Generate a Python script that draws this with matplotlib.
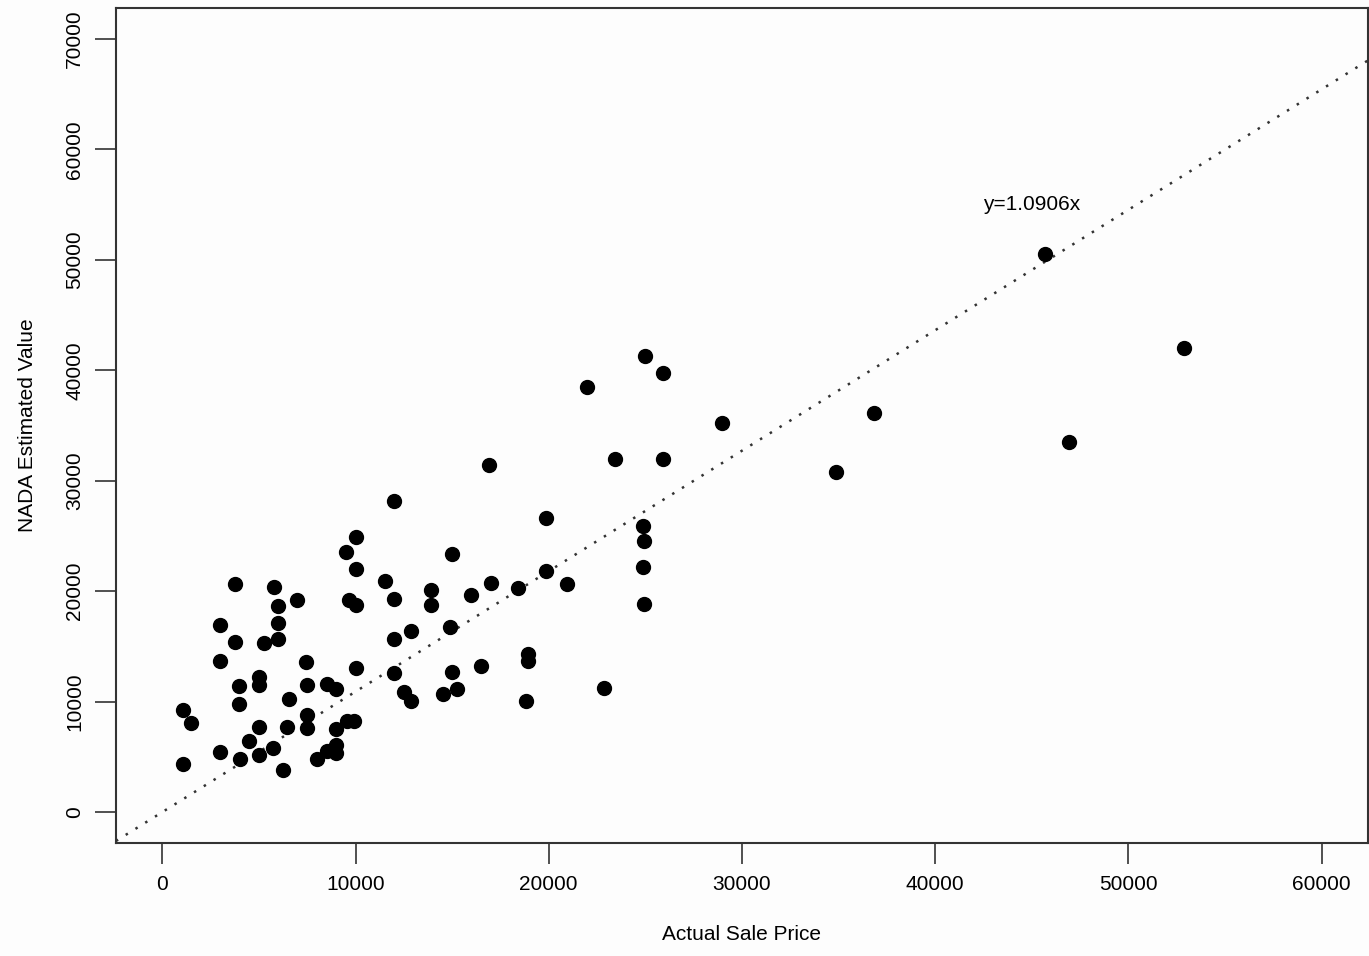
import matplotlib
matplotlib.use("Agg")
import matplotlib.pyplot as plt
import numpy as np

plt.rcParams['font.family'] = ['Liberation Sans', 'DejaVu Sans']

# actual sale price vs NADA estimate
sale_price = [1084, 1497, 1084, 2994, 2994, 2994, 3769, 3769, 3975, 3975,
              4027, 4492, 5008, 5008, 5008, 5008, 5266, 5782, 5730, 5989,
              5989, 5989, 6247, 6453, 6556, 6969, 7434, 7486, 7486, 7486,
              8002, 8518, 8518, 8983, 8983, 8983, 8983, 9499, 9654, 9551,
              9912, 10015, 10015, 10015, 10015, 11513, 11977, 11977, 11977, 11977,
              12494, 12855, 12855, 13887, 13887, 14507, 14868, 14971, 14971, 15230,
              15952, 16520, 16933, 17036, 18430, 18843, 18946, 18946, 19876, 19876,
              20960, 21993, 22870, 23438, 24987, 24884, 24935, 24884, 24935, 25916,
              25916, 28962, 34848, 36861, 45689, 46928, 52865]
nada_value = [9247, 8069, 4352, 16954, 13690, 5440, 20671, 15413, 11423, 9791,
              4805, 6437, 12239, 11514, 7706, 5168, 15322, 20399, 5802, 18676,
              17135, 15684, 3808, 7706, 10245, 19220, 13599, 11514, 8794, 7615,
              4805, 11605, 5530, 11151, 7525, 6074, 5349, 23572, 19220, 8250,
              8250, 24932, 22031, 18767, 13055, 20943, 28196, 19311, 15684, 12602,
              10879, 16410, 10063, 20127, 18767, 10698, 16772, 23391, 12692, 11151,
              19673, 13237, 31460, 20762, 20308, 10063, 14325, 13690, 26655, 21850,
              20671, 38531, 11242, 32004, 41251, 25929, 24569, 22212, 18858, 39800,
              32004, 35267, 30825, 36174, 50498, 33545, 41976]

slope = 1.0906
x_ticks = [0, 10000, 20000, 30000, 40000, 50000, 60000]
y_ticks = [0, 10000, 20000, 30000, 40000, 50000, 60000, 70000]

fig = plt.figure(figsize=(13.69, 9.56), dpi=100, facecolor='#fdfdfd')
ax = fig.add_axes([0.0847, 0.1182, 0.9145, 0.8734])
ax.set_facecolor('#fdfdfd')

ax.scatter(sale_price, nada_value, s=100, c='black', zorder=3)

# fitted line through the origin, spanning the plot
xl = np.array([-2400, 62400])
ax.plot(xl, slope * xl, color='#333333', lw=1.8, linestyle=(0, (1, 3.6)))
ax.text(45000, 55000, "y=1.0906x", fontsize=15, ha='center', va='center')

ax.set_xlim(-2400, 62400)
ax.set_ylim(-2800, 72800)
ax.set_xticks(x_ticks)
ax.set_yticks(y_ticks)
ax.set_xticklabels([str(v) for v in x_ticks])
ax.set_yticklabels([str(v) for v in y_ticks], rotation=90, va='center')
ax.tick_params(length=15, width=1.2, labelsize=15, pad=8, color='#333333')

for s in ax.spines.values():
    s.set_color('#333333')
    s.set_linewidth(1.5)

ax.set_xlabel("Actual Sale Price", fontsize=15, labelpad=22)
ax.set_ylabel("NADA Estimated Value", fontsize=15, labelpad=20)

fig.savefig("out.png", dpi=100, facecolor=fig.get_facecolor())
